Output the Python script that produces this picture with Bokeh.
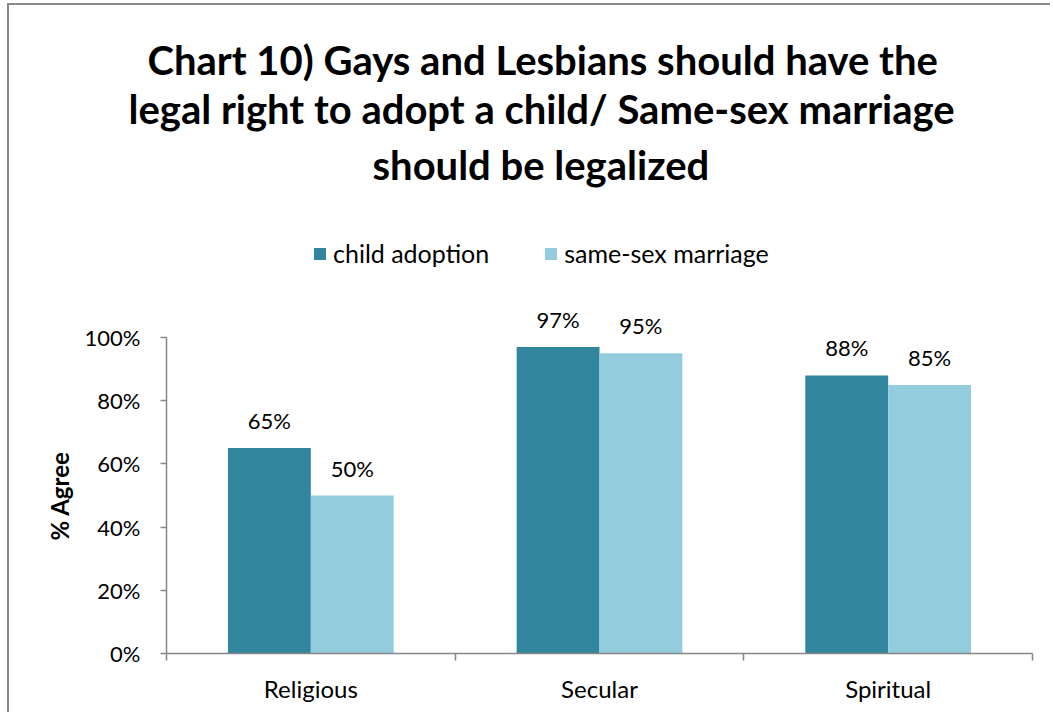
from bokeh.plotting import figure
from bokeh.models import (ColumnDataSource, FactorRange, Range1d, LinearAxis, CategoricalAxis,
                          FixedTicker, NumeralTickFormatter, Legend, LegendItem, LabelSet, Title)
from bokeh.core.properties import value
from bokeh.transform import dodge
from bokeh.embed import file_html
from bokeh.resources import INLINE

categories = ["Religious", "Secular", "Spiritual"]
child_adoption = [0.65, 0.97, 0.88]
same_sex_marriage = [0.50, 0.95, 0.85]
series_names = ["child adoption", "same-sex marriage"]
y_ticks = [0, 0.2, 0.4, 0.6, 0.8, 1.0]
y_label = "% Agree"
title_lines = ["Chart 10) Gays and Lesbians should have the",
               "legal right to adopt a child/ Same-sex marriage",
               "should be legalized"]

FONT = "Lato"
DARK = "#31859C"
LIGHT = "#93CDDD"
AXIS = "#868686"

src = ColumnDataSource(dict(
    cat=categories,
    a=child_adoption,
    b=same_sex_marriage,
    a_lbl=[f"{v:.0%}" for v in child_adoption],
    b_lbl=[f"{v:.0%}" for v in same_sex_marriage],
))

# y range extends above 100% to leave room for the legend and labels (axis is bounded to 0-100%)
p = figure(x_range=FactorRange(*categories, range_padding=0), y_range=Range1d(0, 1.44),
           width=1043, height=709, output_backend="svg", toolbar_location=None,
           x_axis_location=None, y_axis_location=None, title_location=None,
           min_border_left=157, min_border_right=20, min_border_top=193, min_border_bottom=61)
p.grid.visible = False
p.outline_line_color = None
p.background_fill_color = "white"
p.border_fill_color = "white"
p.styles = {"margin-left": "7px", "margin-top": "3px",
            "border-top": "2px solid #898989", "border-left": "2px solid #898989"}

# title lines (outermost added last)
offsets = [-19, -38, 206]
standoffs = [5, -7, 19]
for i in (2, 1, 0):
    t = Title(text=title_lines[i], align="left", offset=offsets[i], standoff=standoffs[i],
              text_font=FONT, text_font_style="bold", text_font_size="40px", text_color="black")
    p.add_layout(t, "above")

W = 0.287
OFF = 0.1435
ra = p.vbar(x=dodge("cat", -OFF, range=p.x_range), top="a", width=W, source=src,
            fill_color=DARK, line_color=None)
rb = p.vbar(x=dodge("cat", OFF, range=p.x_range), top="b", width=W, source=src,
            fill_color=LIGHT, line_color=None)

for col, off in (("a_lbl", -OFF), ("b_lbl", OFF)):
    ls = LabelSet(x=dodge("cat", off, range=p.x_range), y=col[0], text=col, source=src,
                  text_align="center", text_baseline="bottom", y_offset=14,
                  text_font=value(FONT), text_font_size=value("22px"), text_color="black")
    p.add_layout(ls)

# y axis
yax = LinearAxis(ticker=FixedTicker(ticks=y_ticks), formatter=NumeralTickFormatter(format="0%"),
                 bounds=(0, 1))
yax.axis_line_color = AXIS
yax.axis_line_width = 1.5
yax.major_tick_line_color = AXIS
yax.major_tick_line_width = 1.5
yax.major_tick_out = 6
yax.major_tick_in = 0
yax.minor_tick_line_color = None
yax.major_label_standoff = 20
yax.major_label_text_font = FONT
yax.major_label_text_font_size = "22px"
yax.major_label_text_color = "black"
p.add_layout(yax, "left")

# axis title, centred on the 0-100% part of the axis
ytitle = Title(text=y_label, align="left", offset=113, standoff=15,
               text_font=FONT, text_font_style="bold", text_font_size="24px", text_color="black")
p.add_layout(ytitle, "left")

# x axis: tick marks at category boundaries
xtick = LinearAxis(ticker=FixedTicker(ticks=[0, 1, 2, 3]))
xtick.major_label_overrides = {0: "", 1: "", 2: "", 3: ""}
xtick.axis_line_color = AXIS
xtick.axis_line_width = 1.5
xtick.major_tick_line_color = AXIS
xtick.major_tick_line_width = 1.5
xtick.major_tick_out = 7
xtick.major_tick_in = 0
xtick.minor_tick_line_color = None
xtick.major_label_standoff = 0
p.add_layout(xtick, "below")

xcat = CategoricalAxis()
xcat.axis_line_color = None
xcat.major_tick_line_color = None
xcat.minor_tick_line_color = None
xcat.major_label_standoff = 7
xcat.major_label_text_font = FONT
xcat.major_label_text_font_size = "24px"
xcat.major_label_text_color = "black"
p.add_layout(xcat, "below")

legend = Legend(items=[LegendItem(label=series_names[0], renderers=[ra]),
                       LegendItem(label=series_names[1], renderers=[rb])],
                orientation="horizontal", location=(146, 385),
                padding=0, margin=0, spacing=54, glyph_width=15, glyph_height=15,
                label_standoff=6, label_text_font=FONT, label_text_font_size="25px",
                label_text_color="black", border_line_color=None, background_fill_alpha=0)
p.add_layout(legend, "center")

open("out.html", "w").write(file_html(p, INLINE))
